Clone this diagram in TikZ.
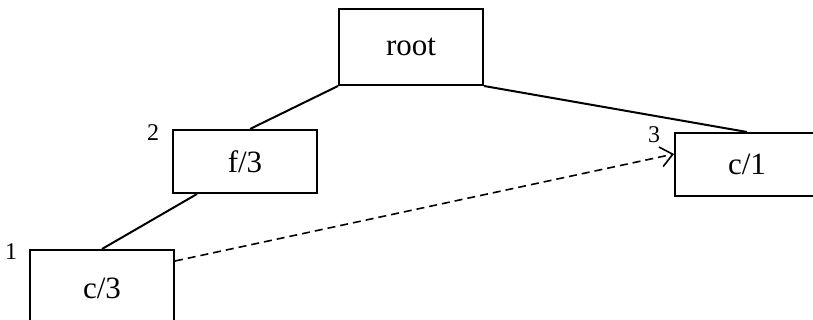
\documentclass[tikz,border=0pt]{standalone}
\usepackage{fontspec}
\setmainfont{Liberation Serif}
\usetikzlibrary{arrows.meta, calc}
\tikzset{
  treebox/.style={rectangle, draw=black, fill=white, line width=1pt,
    minimum width=72pt, minimum height=31.5pt, inner sep=0pt,
    font=\fontsize{15.5}{18}\selectfont},
  rootbox/.style={treebox, minimum height=38pt},
  cnt/.style={font=\fontsize{12}{14}\selectfont, inner sep=0pt},
  edge/.style={line width=1pt, color=black},
  link/.style={-{Straight Barb[length=6pt, width=10pt]}, line width=0.8pt, dash pattern=on 4pt off 2.5pt}
}
\begin{document}
\begin{tikzpicture}[x=0.5pt, y=-0.5pt]
  \clip (0,0) rectangle (813,320);
  \useasboundingbox (0,0) rectangle (813,320);

  % Nodes of the tree
  \node[rootbox] (root) at (411,47) {root};
  \node[treebox] (f3) at (245,161.5) {f/3};
  \node[treebox] (c1) at (747,164.5) {c/1};
  \node[treebox, minimum height=38pt] (c3) at (102,288) {c/3};

  % Counts
  \node[cnt] (n2) at (153,133) {2};
  \node[cnt] (n3) at (654,135) {3};
  \node[cnt] (n1) at (11,252) {1};

  % Tree edges
  \draw[edge] (root.south west) -- ($(f3.north)+(5,0)$);
  \draw[edge] (root.south east) -- (c1.north);
  \draw[edge] ($(f3.south west)+(25,0)$) -- (c3.north);

  % Node link
  \coordinate (from) at ($(c3.north east)+(0,12)$);
  \coordinate (to) at ($(c1.north west)+(0,22)$);
  \draw[link] (from) -- (to);
\end{tikzpicture}
\end{document}
